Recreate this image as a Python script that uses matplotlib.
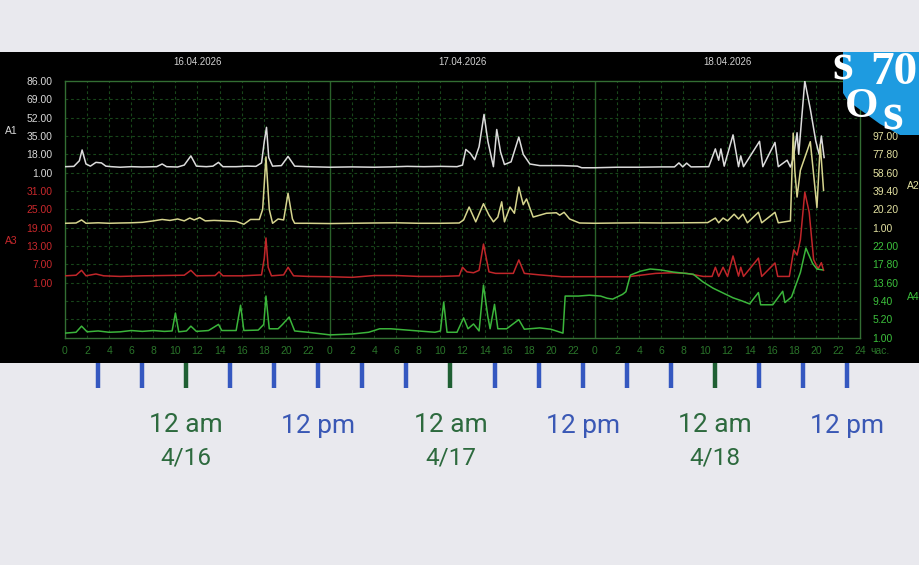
import matplotlib
matplotlib.use("Agg")
import matplotlib.pyplot as plt
from matplotlib.patches import Rectangle, Polygon

# ---------------- data (hours since 16.04.2026 00:00) ----------------
a1_t = [0, 0.8, 1.3, 1.55, 1.9, 2.3, 2.8, 3.3, 3.7, 4.2, 5, 6, 7, 8.3, 8.8, 9.2, 10.2, 10.8, 11.4, 11.9,
        12.8, 13.4, 13.9, 14.3, 15.5, 16.5, 17.3, 17.8, 18.05, 18.25, 18.45, 18.8, 19.6, 20.2, 20.8, 22,
        24, 26, 28, 29.5, 31, 32.5, 34, 35.5, 36.0, 36.3, 36.7, 37.1, 37.5, 37.95, 38.3, 38.8, 39.1, 39.45,
        39.8, 40.4, 41.1, 41.5, 42.1, 43, 44, 45, 46.4, 46.8, 48, 50, 52, 54, 55.2, 55.6, 55.95, 56.3, 56.7,
        58.3, 58.9, 59.2, 59.4, 59.7, 60.5, 61.0, 61.2, 61.45, 62.9, 63.2, 64.3, 64.6, 65.4, 65.7, 65.95,
        66.3, 66.45, 67.0, 67.5, 68.0, 68.3, 68.5, 68.75]
a1_v = [6.5, 6.8, 12, 22, 9, 7, 10.5, 10, 7, 6.5, 6, 6.5, 6.2, 6.5, 9, 6.5, 6.2, 8, 16.5, 7,
        6.5, 7, 10.5, 6.5, 6.5, 7, 6.8, 10, 30, 43, 15, 7, 7.5, 16, 7, 6.5,
        6, 6.3, 6, 6.3, 6.8, 6.5, 6.8, 6.5, 8, 22.5, 19, 13, 25, 55, 30, 6.5, 41, 20,
        8.5, 11, 34, 18, 9, 7.5, 7.5, 7.5, 7, 5.5, 5.5, 6, 6, 6.3, 6.3, 10, 6.3, 9.8, 6.3,
        6.5, 23, 12.5, 23, 7, 36, 6.5, 16.5, 6.5, 30, 6.5, 29, 6.5, 12.5, 6.2, 14,
        38, 18, 86, 60, 30, 18, 35, 15]

a2_t = [0, 1.0, 1.5, 1.9, 3, 4, 5, 6, 7, 8, 8.8, 9.5, 10.2, 10.8, 11.3, 11.7, 12.2, 12.7, 13.5, 14.5,
        15.5, 16.2, 16.8, 17.6, 17.9, 18.2, 18.5, 18.8, 19.3, 19.8, 20.2, 20.6, 20.8, 22, 24, 26, 28, 30,
        32, 34, 35.7, 36.1, 36.6, 37.2, 37.9, 38.4, 38.8, 39.2, 39.55, 39.8, 40.3, 40.7, 41.1, 41.5, 41.8,
        42.4, 43.0, 43.6, 44.5, 44.8, 45.2, 45.7, 46.6, 48, 50, 52, 54, 56, 58.2, 58.9, 59.2, 59.6, 60.0,
        60.6, 61.0, 61.4, 61.8, 62.8, 63.1, 64.3, 64.6, 65.7, 65.95, 66.1, 66.3, 66.6, 67.5, 68.1, 68.4, 68.7]
a2_v = [5.5, 5.8, 9, 5.5, 6, 5.5, 5.8, 6, 6.5, 8, 9.5, 8.5, 10, 8, 11, 9, 11.5, 8, 8.5, 8,
        7.5, 4.5, 9.5, 9.5, 20, 75, 20, 5.5, 10, 9, 37, 10, 5.5, 5.5, 5.2, 5.5, 5.8, 6,
        5.5, 5.5, 5.8, 9, 22.5, 7, 26, 14, 7, 12, 28, 7, 22.5, 16, 43.5, 25, 31,
        12, 14, 16, 16.5, 14, 17, 10, 5.8, 5.5, 5.8, 6, 5.8, 6, 6.2, 11, 6, 11, 8,
        15, 10, 15, 6, 17, 6, 17, 6, 8, 100, 60, 33, 61, 91, 22, 88, 40]

a3_t = [0, 1.0, 1.5, 1.9, 2.8, 3.5, 5, 7, 9, 10.8, 11.4, 11.9, 13.6, 13.95, 14.3, 16, 17.8, 18.05, 18.2,
        18.4, 18.7, 19.8, 20.2, 20.7, 22, 24, 26, 28, 30, 32, 34, 35.7, 36.0, 36.4, 37.0, 37.5, 37.9, 38.4,
        39, 40.6, 41.1, 41.6, 43, 45, 48, 51, 53.5, 55, 56.3, 57.8, 58.6, 58.9, 59.2, 59.6, 60.0, 60.5,
        61.0, 61.2, 61.45, 62.8, 63.1, 64.3, 64.55, 65.6, 66.0, 66.3, 66.6, 67.0, 67.4, 67.8, 68.2, 68.5, 68.7]
a3_v = [3.2, 3.4, 5, 3.2, 3.8, 3.2, 3, 3.2, 3.3, 3.4, 5, 3.2, 3.3, 4.5, 3.2, 3.2, 3.5, 9, 15.6,
        6, 3.2, 3.5, 6, 3.2, 3, 2.9, 2.7, 3.3, 3.3, 3.0, 3.0, 3.2, 6, 4.5, 4.2, 5, 13.6, 4.5,
        4, 4, 8.4, 4, 3.5, 2.9, 2.9, 2.9, 4, 4.2, 4, 3, 3, 6, 3, 6, 3, 9.7,
        3.1, 6, 3, 9, 3, 7.4, 3, 3, 11.7, 10, 15, 30.6, 24, 8.5, 5.5, 7.5, 5]

a4_t = [0, 1.0, 1.5, 2.0, 3, 4, 5, 6, 7, 8, 9, 9.7, 10.0, 10.3, 11.0, 11.4, 11.9, 13, 13.9, 14.2, 15.5,
        15.9, 16.2, 17.5, 18.0, 18.2, 18.5, 19.3, 19.7, 20.3, 20.8, 22, 24, 26, 27.5, 28.5, 29.5, 30.5, 32,
        33.5, 34.0, 34.3, 34.6, 35.5, 36.1, 36.5, 37.0, 37.5, 37.9, 38.3, 38.5, 38.9, 39.2, 40, 41.1, 41.6,
        43, 44, 45.1, 45.3, 46.5, 47.5, 48.5, 49.1, 49.6, 50.5, 50.8, 51.2, 52.1, 53.0, 53.9, 55.1, 56.9,
        57.8, 58.7, 59.6, 60.5, 61.3, 62.0, 62.8, 63.0, 64.1, 65.0, 65.2, 65.8, 66.6, 67.1, 67.7, 68.1, 68.6]
a4_v = [2.0, 2.2, 3.6, 2.3, 2.5, 2.2, 2.3, 2.6, 2.4, 2.6, 2.4, 2.5, 6.6, 2.3, 2.5, 3.6, 2.4, 2.6, 4, 2.6, 2.6,
        8.4, 2.6, 2.7, 4, 10.5, 3, 3, 4, 5.7, 2.5, 2.2, 1.6, 1.8, 2.2, 3, 3, 2.8, 2.5,
        2.2, 2.5, 9.1, 2.2, 2.2, 5.5, 3, 4.1, 2.5, 13, 5.7, 3, 8.6, 3, 3, 5.1, 2.9,
        3.2, 2.9, 2.0, 10.5, 10.5, 10.7, 10.5, 10.0, 9.8, 10.9, 11.5, 15.3, 16.2, 16.7, 16.5, 16.0, 15.5,
        13.7, 12.3, 11.2, 10.1, 9.4, 8.7, 11.3, 8.5, 8.5, 11.6, 9, 10.3, 15.9, 21.5, 18, 16.7, 16.5]

a1_ticks = [1, 18, 35, 52, 69, 86]
a2_ticks = [1, 20.2, 39.4, 58.6, 77.8, 97.0]
a3_ticks = [1, 7, 13, 19, 25, 31]
a4_ticks = [1, 5.2, 9.4, 13.6, 17.8, 22]
day_labels = ["16.04.2026", "17.04.2026", "18.04.2026"]
hour_labels = ["0", "2", "4", "6", "8", "10", "12", "14", "16", "18", "20", "22"]
bottom_major = ["12 am", "12 pm", "12 am", "12 pm", "12 am", "12 pm"]
bottom_hours = [0, 12, 24, 36, 48, 60]
bottom_dates = ["4/16", "4/17", "4/18"]

# ---------------- figure ----------------
W, H = 920, 565
fig = plt.figure(figsize=(W / 100, H / 100), dpi=100, facecolor="#e9e9ee")


def fx(x):
    return x / W


def fy(y):
    return 1 - y / H


fig.patches.append(Rectangle((0, fy(363)), 1, (363 - 52) / H, transform=fig.transFigure,
                             facecolor="black", edgecolor="none", zorder=-5))

L, R, T, B = 65, 860, 81, 337.5
rect = [fx(L), fy(B), (R - L) / W, (B - T) / H]

axg = fig.add_axes(rect, facecolor="black")
axg.set_xlim(0, 72)
axg.set_ylim(0, 14)
grid_c = "#18461a"
for r in range(1, 14):
    axg.axhline(r, color=grid_c, lw=0.8, ls=(0, (2.5, 2.5)), zorder=1)
for h in range(2, 72, 2):
    if h % 24 == 0:
        axg.axvline(h, color="#2a622a", lw=1.0, zorder=1)
    else:
        axg.axvline(h, color=grid_c, lw=0.8, ls=(0, (2.5, 2.5)), zorder=1)
for s in axg.spines.values():
    s.set_color("#336e33")
    s.set_linewidth(1.0)
axg.set_yticks([])
axg.set_xticks(list(range(0, 73, 2)))
axg.set_xticklabels(hour_labels * 3 + ["24"], color="#2a742a", fontsize=7.5,
                    family="Liberation Sans")
axg.tick_params(axis="x", length=0, pad=6)
axg.text(72.9, -0.72, "час.", color="#2a742a", fontsize=7.5, family="Liberation Sans",
         ha="left", va="center", clip_on=False)
for i, lab in enumerate(day_labels):
    fig.text(fx(L + (R - L) * (i + 0.5) / 3), fy(62), lab, color="#d0d0d0", fontsize=7,
             family="Liberation Sans", ha="center", va="center")


def overlay(name, t, v, color, lo, hi, ticks, side, tcolor):
    ax = fig.add_axes(rect, label=name, facecolor="none", sharex=axg)
    ax.plot(t, v, color=color, lw=1.1, zorder=3)
    ax.set_ylim(lo, hi)
    ax.set_yticks(ticks)
    ax.set_yticklabels(["%.2f" % k for k in ticks], color=tcolor, fontsize=7.5,
                       family="Liberation Sans")
    if side == "right":
        ax.yaxis.tick_right()
    ax.tick_params(axis="y", length=0, pad=9)
    ax.tick_params(axis="x", length=0, labelbottom=False)
    for s in ax.spines.values():
        s.set_visible(False)
    return ax


overlay("A1", a1_t, a1_v, "#dcdcdc", 1 - 9 * 17, 86, a1_ticks, "left", "#d8d8d8")
overlay("A2", a2_t, a2_v, "#d6d48e", 1 - 6 * 19.2, 1 + 8 * 19.2, a2_ticks, "right", "#e2e0a0")
overlay("A3", a3_t, a3_v, "#c0262a", 1 - 3 * 6, 1 + 11 * 6, a3_ticks, "left", "#c8282c")
overlay("A4", a4_t, a4_v, "#3bb53b", 1, 1 + 14 * 4.2, a4_ticks, "right", "#3cc03c")

fig.text(fx(5), fy(131), "A1", color="#d8d8d8", fontsize=7.5, family="Liberation Sans", va="center")
fig.text(fx(5), fy(241), "A3", color="#c8282c", fontsize=7.5, family="Liberation Sans", va="center")
fig.text(fx(907), fy(186), "A2", color="#e2e0a0", fontsize=7.5, family="Liberation Sans", va="center")
fig.text(fx(907), fy(297), "A4", color="#3cc03c", fontsize=7.5, family="Liberation Sans", va="center")

# logo
logo = [(843, 52), (920, 52), (920, 135), (900, 135), (880, 124), (862, 111), (848, 101), (843, 93)]
fig.patches.append(Polygon([(fx(x), fy(y)) for x, y in logo], closed=True, transform=fig.transFigure,
                           facecolor="#1e9be0", edgecolor="none", zorder=5))
for txt, x, y, fs in [("s", 843, 66, 38), ("70", 894, 73, 34), ("O", 862, 107, 31), ("s", 893, 116, 38)]:
    fig.text(fx(x), fy(y), txt, color="white", fontsize=fs, family="Liberation Serif",
             fontweight="bold", ha="center", va="center", zorder=6)

# bottom timeline
axt = fig.add_axes([0, fy(388), 1, 25 / H], facecolor="none")
axt.set_xlim(-186 / 11.02, (W - 186) / 11.02)
axt.set_ylim(0, 1)
axt.axis("off")
for h in range(-8, 61, 4):
    c = "#1f5f33" if h % 24 == 0 else "#3558c0"
    axt.vlines(h, 0, 1, color=c, lw=3.2)
for h, lab in zip(bottom_hours, bottom_major):
    c = "#2d6a3e" if lab.endswith("am") else "#3a58b5"
    axt.text(h, -1.5, lab, color=c, fontsize=19, family="Roboto", ha="center", va="center",
             clip_on=False)
for i, lab in enumerate(bottom_dates):
    axt.text(24 * i, -2.8, lab, color="#2d6a3e", fontsize=17.5, family="Roboto", ha="center",
             va="center", clip_on=False)

fig.savefig("out.png", dpi=100, facecolor=fig.get_facecolor())
